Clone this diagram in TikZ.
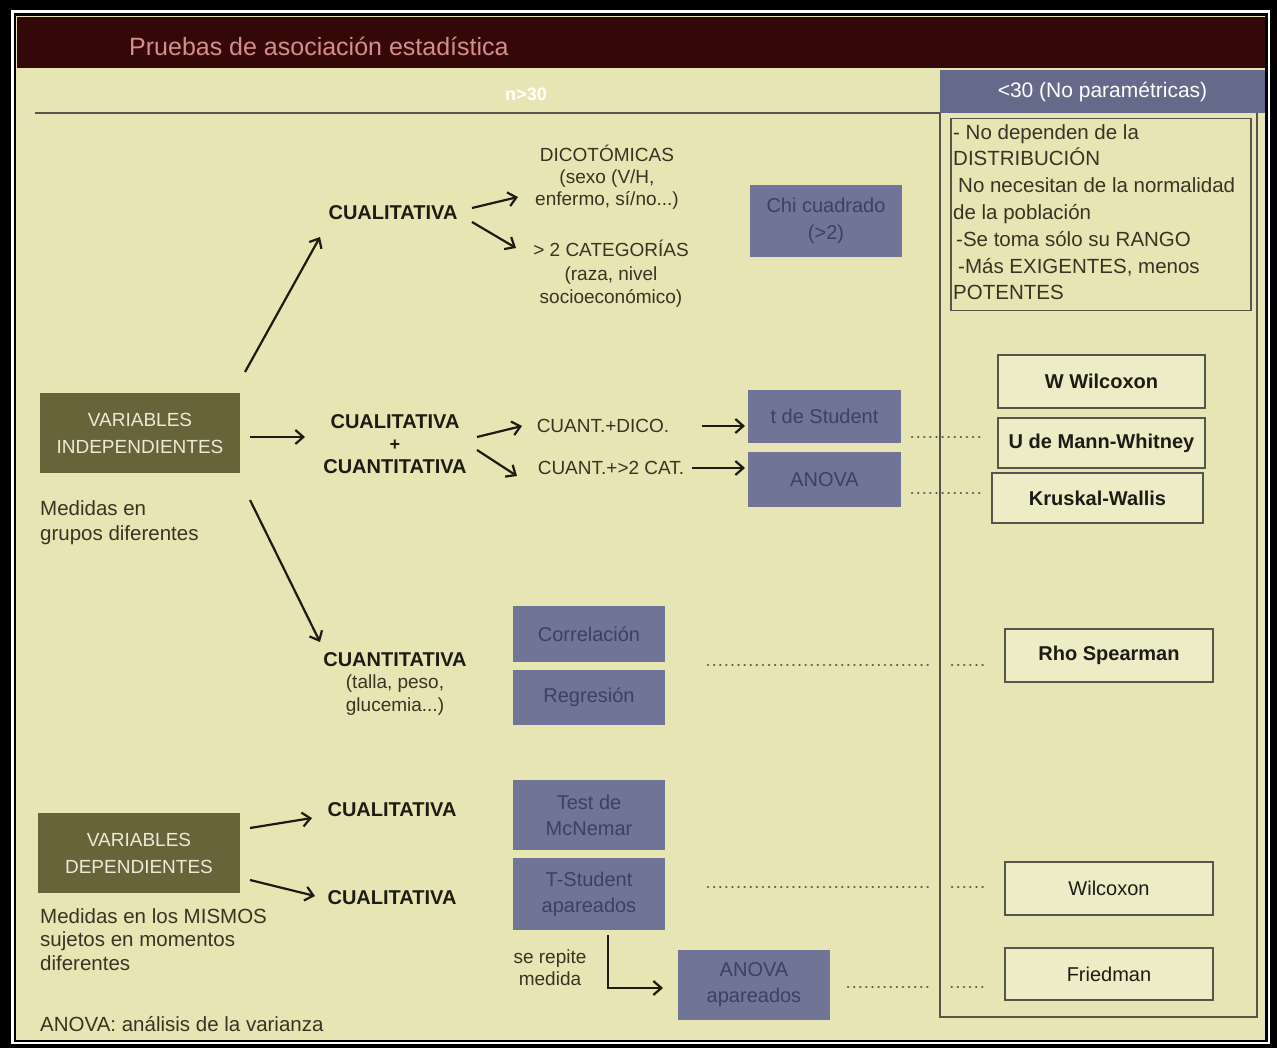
\documentclass[tikz,border=0pt]{standalone}
\usepackage{fontspec}
\setmainfont{Liberation Sans}
\usetikzlibrary{arrows.meta,calc}
\definecolor{bg}{RGB}{231,229,180}
\definecolor{maroonc}{RGB}{52,8,8}
\definecolor{titlec}{RGB}{215,140,140}
\definecolor{boxblue}{RGB}{112,116,150}
\definecolor{boxtext}{RGB}{62,64,98}
\definecolor{olivec}{RGB}{104,100,58}
\definecolor{olivetext}{RGB}{235,235,215}
\definecolor{hdrblue}{RGB}{102,106,138}
\definecolor{linec}{RGB}{85,85,75}
\definecolor{inkc}{RGB}{28,28,20}
\definecolor{txtc}{RGB}{55,52,35}
\definecolor{wboxfill}{RGB}{236,236,198}
\tikzset{
  bluebox/.style={fill=boxblue, text=boxtext, align=center, inner sep=0pt, minimum width=152pt, font=\fontsize{20}{27}\selectfont},
  olivebox/.style={fill=olivec, text=olivetext, align=center, inner sep=0pt, font=\fontsize{19}{27}\selectfont},
  wbox/.style={draw=linec, line width=2pt, fill=wboxfill, text=inkc, inner sep=0pt, font=\bfseries\fontsize{20}{24}\selectfont},
  boldlbl/.style={text=inkc, font=\bfseries\fontsize{20}{22.5}\selectfont, inner sep=0pt, align=center},
  lbl/.style={text=txtc, font=\fontsize{19}{22.5}\selectfont, inner sep=0pt, align=center},
  arr/.style={draw=inkc, line width=2.2pt, -{Straight Barb[length=8pt,width=14pt]}},
  dotline/.style={draw=linec, line width=2.6pt, line cap=round, dash pattern=on 0.1pt off 6pt},
  colline/.style={draw=linec, line width=1.6pt}
}
\begin{document}
\begin{tikzpicture}[x=1pt,y=-1pt]
\useasboundingbox (0,0) rectangle (1277,1048);
% frame
\fill[black] (0,0) rectangle (1277,1048);
\fill[white] (11,10) rectangle (1270,1044);
\fill[black] (14,13) rectangle (1268,1042);
\fill[bg] (16,16) rectangle (1265,1040);
% header
\fill[maroonc] (17,17) rectangle (1265,68);
\node[anchor=west, text=titlec, inner sep=0pt, font=\fontsize{25}{25}\selectfont] (title) at (129,46) {Pruebas de asociación estadística};
\node[text=white, inner sep=0pt, font=\bfseries\fontsize{18}{18}\selectfont] (ngt) at (526,94) {n>30};
\draw[linec, line width=2pt] (35,113) -- (940,113);
\node[fill=hdrblue, text=white, minimum width=325pt, minimum height=43pt, inner sep=0pt, font=\fontsize{21}{21}\selectfont] (hdr) at (1102.5,91.5) {<30 (No paramétricas)};
% dotted links (drawn beneath the column frame)
\coordinate (dummy) at (0,0);
% right column frame
\node[draw=linec, line width=1.5pt, anchor=north west, minimum width=300pt, minimum height=192pt, inner sep=0pt] (nobox) at (950,118) {};
\node[lbl, align=left, anchor=north west, font=\fontsize{20.5}{26.8}\selectfont] (notes) at (953,124) {- No dependen de la\\DISTRIBUCIÓN\\\hspace*{5pt}No necesitan de la normalidad\\de la población\\\hspace*{3pt}-Se toma sólo su RANGO\\\hspace*{5pt}-Más EXIGENTES, menos\\POTENTES};
% olive boxes
\node[olivebox, minimum width=200pt, minimum height=80pt] (vi) at (140,433) {VARIABLES\\INDEPENDIENTES};
\node[olivebox, minimum width=202pt, minimum height=80pt] (vd) at (139,853) {VARIABLES\\DEPENDIENTES};
\node[lbl, align=left, anchor=north west, font=\fontsize{20.5}{25}\selectfont] (med1) at (40,500) {Medidas en\\grupos diferentes};
\node[lbl, align=left, anchor=north west, font=\fontsize{20.5}{23.5}\selectfont] (med2) at (40,908) {Medidas en los MISMOS\\sujetos en momentos\\diferentes};
\node[lbl, anchor=base west, font=\fontsize{20.5}{22}\selectfont] (foot) at (40,1031) {ANOVA: análisis de la varianza};
% labels
\node[boldlbl] (cual1) at (393,213) {CUALITATIVA};
\node[lbl, font=\fontsize{19}{22}\selectfont] (dico) at (607,177) {DICOTÓMICAS\\(sexo (V/H,\\enfermo, sí/no...)};
\node[lbl, font=\fontsize{19}{23.5}\selectfont] (cat) at (611,274) {> 2 CATEGORÍAS\\(raza, nivel\\socioeconómico)};
\node[boldlbl] (cc) at (395,444) {CUALITATIVA\\{\fontsize{18}{14}\selectfont+}\\CUANTITATIVA};
\node[lbl] (cdico) at (603,426) {CUANT.+DICO.};
\node[lbl] (ccat) at (611,468) {CUANT.+>2 CAT.};
\node[boldlbl] (cuant) at (395,660) {CUANTITATIVA};
\node[lbl] (cuantsub) at (395,695) {(talla, peso,\\glucemia...)};
\node[boldlbl] (cual2) at (392,810) {CUALITATIVA};
\node[boldlbl] (cual3) at (392,898) {CUALITATIVA};
\node[lbl, font=\fontsize{19}{22}\selectfont] (rep) at (550,968) {se repite\\medida};
% blue boxes
\node[bluebox, minimum height=72pt] (chi) at (826,221) {Chi cuadrado\\(>2)};
\node[bluebox, minimum width=153pt, minimum height=53pt] (tstud) at (824.5,416.5) {t de Student};
\node[bluebox, minimum width=153pt, minimum height=55pt] (anova) at (824.5,479.5) {ANOVA};
\node[bluebox, minimum height=56pt] (corr) at (589,634) {Correlación};
\node[bluebox, minimum height=55pt] (reg) at (589,697.5) {Regresión};
\node[bluebox, minimum height=70pt, font=\fontsize{20}{26}\selectfont] (mcn) at (589,815) {Test de\\McNemar};
\node[bluebox, minimum height=72pt, font=\fontsize{20}{26}\selectfont] (tap) at (589,894) {T-Student\\apareados};
\node[bluebox, minimum height=70pt, font=\fontsize{20}{26}\selectfont] (anovaap) at (754,985) {ANOVA\\apareados};
% white boxes
\node[wbox, minimum width=207pt, minimum height=53pt] (ww) at (1101.5,381.5) {W Wilcoxon};
\node[wbox, minimum width=207pt, minimum height=50pt] (mw) at (1101.5,443) {U de Mann-Whitney};
\node[wbox, minimum width=211pt, minimum height=50pt] (kw) at (1097.5,498) {Kruskal-Wallis};
\node[wbox, minimum width=208pt, minimum height=53pt] (rho) at (1109,655) {Rho Spearman};
\node[wbox, minimum width=208pt, minimum height=53pt, font=\fontsize{20}{24}\selectfont] (wil) at (1109,888.5) {Wilcoxon};
\node[wbox, minimum width=208pt, minimum height=52pt, font=\fontsize{20}{24}\selectfont] (fri) at (1109,974) {Friedman};
% dotted links
\draw[dotline] ($(tstud.center)+(87.5,20.5)$) -- ($(mw.center)+(-116.5,-6)$);
\draw[dotline] ($(anova.center)+(87.5,13.5)$) -- ($(kw.center)+(-112.5,-5)$);
\draw[dotline] ($(corr.center)+(119,31)$) -- ($(rho.center)+(-124,10)$);
\draw[dotline] ($(tap.center)+(119,-7)$) -- ($(wil.center)+(-124,-1.5)$);
\draw[dotline] ($(anovaap.center)+(94,2)$) -- ($(fri.center)+(-124,13)$);
% gaps of the dotted lines at the column rule
\fill[bg] (932,660) rectangle (947,670);
\fill[bg] (932,882) rectangle (947,892);
\fill[bg] (932,982) rectangle (947,992);
\draw[colline] (940,113) -- (940,1017) -- (1257,1017) -- (1257,113);
% arrows
\draw[arr] ($(vi.center)+(105,-61)$) -- ($(cual1.center)+(-73,24)$);
\draw[arr] ($(cual1.center)+(79,-5)$) -- ($(dico.center)+(-89,20)$);
\draw[arr] ($(cual1.center)+(79,9)$) -- ($(cat.center)+(-95,-26)$);
\draw[arr] ($(vi.center)+(110,4)$) -- ($(cc.center)+(-90,-7)$);
\draw[arr] ($(cc.center)+(82,-7)$) -- ($(cdico.center)+(-81,0)$);
\draw[arr] ($(cc.center)+(82,6)$) -- ($(ccat.center)+(-94,8)$);
\draw[arr] ($(cdico.center)+(99,0)$) -- ($(tstud.center)+(-79.5,9.5)$);
\draw[arr] ($(ccat.center)+(81,0)$) -- ($(anova.center)+(-79.5,-11.5)$);
\draw[arr] ($(vi.center)+(110,67)$) -- ($(cuant.center)+(-75,-18)$);
\draw[arr] ($(vd.center)+(111,-25)$) -- ($(cual2.center)+(-80,8)$);
\draw[arr] ($(vd.center)+(111,27)$) -- ($(cual3.center)+(-77,-2)$);
\draw[arr] ($(tap.center)+(19,41)$) |- ($(anovaap.center)+(-91,3)$);
\end{tikzpicture}
\end{document}
